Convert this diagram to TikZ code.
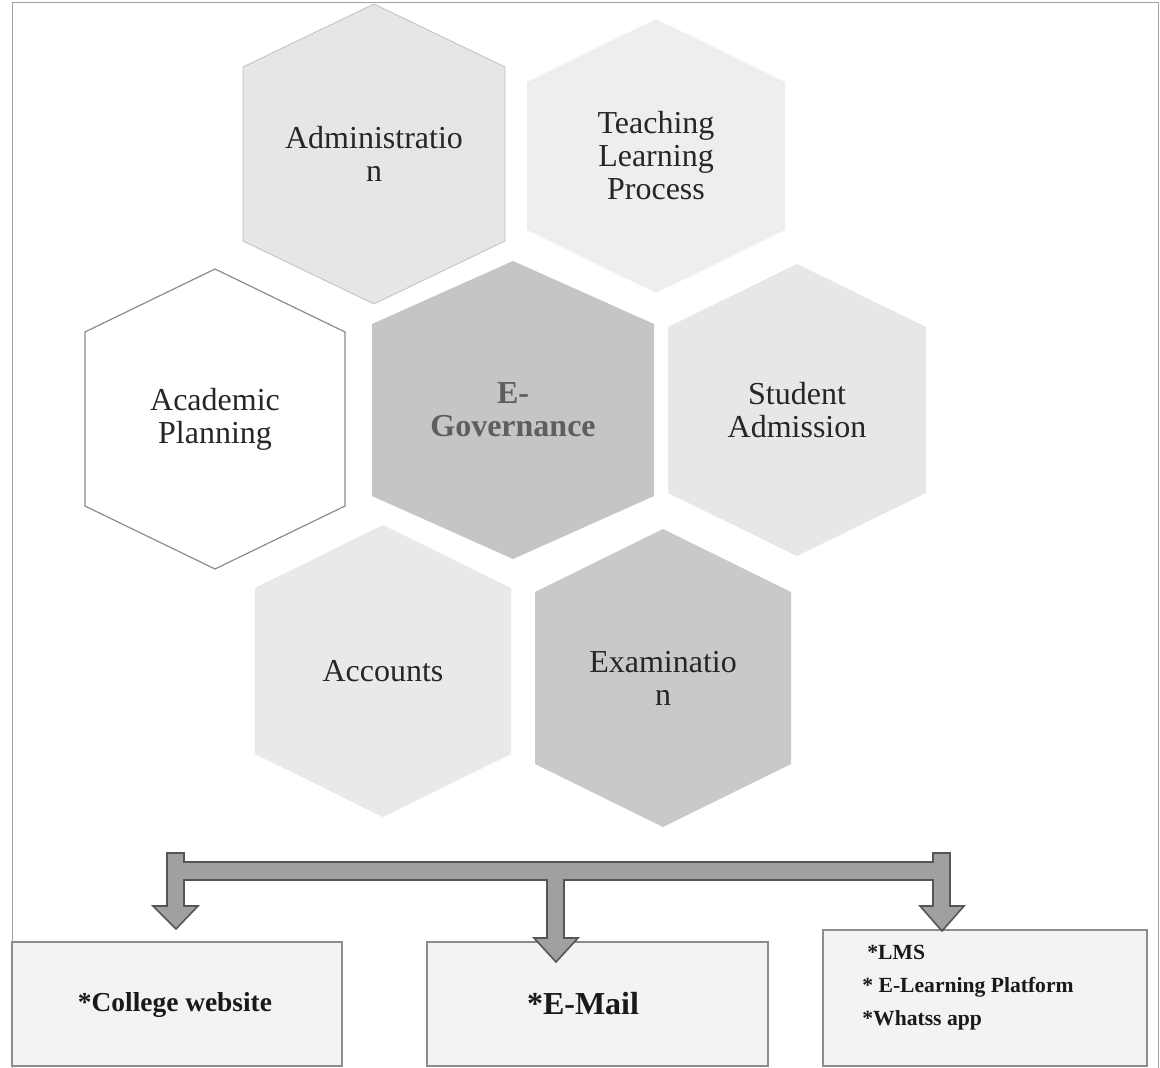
\documentclass[tikz,border=0pt]{standalone}
\usepackage{fontspec}
\setmainfont{Liberation Serif}
\definecolor{hexA}{HTML}{E6E6E6}
\definecolor{hexT}{HTML}{EEEEEE}
\definecolor{hexE}{HTML}{C5C5C5}
\definecolor{hexS}{HTML}{E7E7E7}
\definecolor{hexC}{HTML}{E9E9E9}
\definecolor{hexX}{HTML}{C9C9C9}
\definecolor{lineG}{HTML}{8C8C8C}
\definecolor{arrowF}{HTML}{A0A0A0}
\definecolor{arrowD}{HTML}{555555}
\definecolor{boxF}{HTML}{F3F3F3}
\definecolor{egovT}{HTML}{5E5E5E}
\newcommand{\hexcell}[7]{%
  \path[#6] (#2,#3-#5) -- (#2+#4,#3-#5+63) -- (#2+#4,#3+#5-63) -- (#2,#3+#5)
     -- (#2-#4,#3+#5-63) -- (#2-#4,#3-#5+63) -- cycle;
  \node[hexlabel] (#1) at (#2,#3) {#7};
}
\begin{document}
\begin{tikzpicture}[x=0.5pt,y=-0.5pt,
  hexlabel/.style={align=center,inner sep=0pt,text=black!85,
    font=\fontsize{16}{16.5}\selectfont},
  boxnode/.style={draw=lineG,fill=boxF,line width=0.6pt,inner sep=0pt},
  boxtext/.style={inner sep=0pt,font=\bfseries,text=black!90},
  blockarrow/.style={fill=arrowF,draw=arrowD,line width=0.8pt,line join=miter}]
\useasboundingbox (0,0) rectangle (1160,1068);
\fill[white] (0,0) rectangle (1160,1068);
% frame
\draw[lineG!80,line width=0.5pt] (12,1068) -- (12,3) -- (1158,3) -- (1158,1068);

% hexagons
\hexcell{admin}{374}{154}{131}{150}{fill=hexA,draw=lineG!55,line width=0.4pt}{Administratio\\n}
\hexcell{teach}{656}{156}{129}{137}{fill=hexT}{Teaching\\Learning\\Process}
\hexcell{acad}{215}{419}{130}{150}{fill=white,draw=lineG,line width=0.6pt}{Academic\\Planning}
\hexcell{egov}{513}{410}{141}{149}{fill=hexE}{\textbf{\textcolor{egovT}{E-}}\\\textbf{\textcolor{egovT}{Governance}}}
\hexcell{stud}{797}{410}{129}{146}{fill=hexS}{Student\\Admission}
\hexcell{acct}{383}{671}{128}{146}{fill=hexC}{Accounts}
\hexcell{exam}{663}{678}{128}{149}{fill=hexX}{Examinatio\\n}

% bottom boxes
\node[boxnode,minimum width=165pt,minimum height=62pt] (b1) at (177,1004) {};
\node[boxnode,minimum width=170.5pt,minimum height=62pt] (b2) at (597.5,1004) {};
\node[boxnode,minimum width=162pt,minimum height=68pt] (b3) at (985,998) {};

% block arrows (bar with three downward arrows)
\coordinate (tipL) at (176,929);
\coordinate (tipM) at (556,962);
\coordinate (tipR) at (942,931);
\draw[blockarrow] (167,853) -- (184,853) -- (184,862) -- (933,862) -- (933,853) -- (950,853)
  -- (950,906) -- (964,906) -- (tipR) -- (920,906) -- (933,906) -- (933,880)
  -- (564,880) -- (564,938) -- (578,938) -- (tipM) -- (534,938) -- (547,938) -- (547,880)
  -- (184,880) -- (184,906) -- (198,906) -- (tipL) -- (153,906) -- (167,906) -- cycle;

% box texts
\node[boxtext,font=\bfseries\fontsize{13.7}{15}\selectfont] (t1) at (175,1005) {*College website};
\node[boxtext,font=\bfseries\fontsize{16}{17}\selectfont] (t2) at (583,1004) {*E-Mail};
\node[boxtext,font=\bfseries\fontsize{10.8}{16.5}\selectfont,align=left,anchor=north west] (t3) at (862,945)
  {\hspace*{2.5pt}*LMS\\* E-Learning Platform\\*Whatss app};
\end{tikzpicture}
\end{document}
